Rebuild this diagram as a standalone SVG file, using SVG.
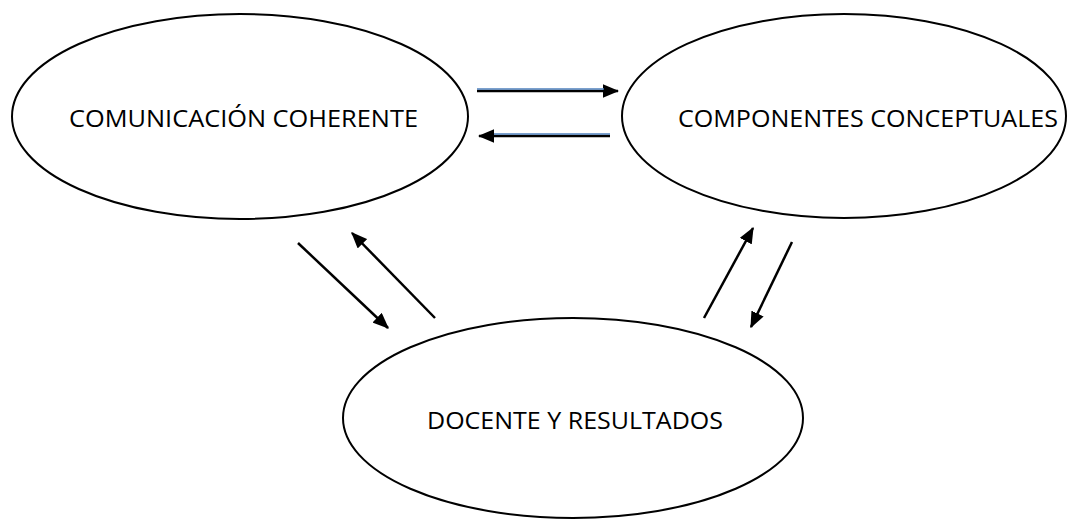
<svg xmlns="http://www.w3.org/2000/svg" width="1067" height="519" viewBox="0 0 1067 519">
<style>
.node{fill:#fff;stroke:#000;stroke-width:2}
.lbl{font-family:"Open Sans","Liberation Sans",sans-serif;font-size:24.5px;fill:#000}
.ln{stroke:#000;stroke-width:2.5;fill:none}
.blue{stroke:#4f81bd;stroke-width:1.6;fill:none}
</style>
<defs>
<marker id="ah" markerWidth="6.5" markerHeight="5.4" refX="6" refY="2.7" orient="auto" markerUnits="strokeWidth">
<path d="M0,0 L6.5,2.7 L0,5.4 Z" fill="#000"/>
</marker>
</defs>
<rect width="1067" height="519" fill="#fff"/>
<g id="n1">
<ellipse class="node" cx="240" cy="116.5" rx="228" ry="102.5"/>
<text class="lbl" x="69" y="127" textLength="349" lengthAdjust="spacingAndGlyphs">COMUNICACIÓN COHERENTE</text>
</g>
<g id="n2">
<ellipse class="node" cx="844" cy="116" rx="222" ry="102"/>
<text class="lbl" x="678" y="127" textLength="380" lengthAdjust="spacingAndGlyphs">COMPONENTES CONCEPTUALES</text>
</g>
<g id="n3">
<ellipse class="node" cx="573" cy="418" rx="230" ry="100"/>
<text class="lbl" x="427" y="429" textLength="296" lengthAdjust="spacingAndGlyphs">DOCENTE Y RESULTADOS</text>
</g>
<g id="connectors">
<line class="ln" x1="477" y1="91" x2="618" y2="91" marker-end="url(#ah)"/>
<line class="blue" x1="477" y1="89" x2="604" y2="89"/>
<line class="ln" x1="610" y1="136" x2="479" y2="136" marker-end="url(#ah)"/>
<line class="blue" x1="494" y1="134" x2="610" y2="134"/>
<line class="ln" x1="298" y1="243" x2="388" y2="328" marker-end="url(#ah)"/>
<line class="ln" x1="435" y1="318" x2="352" y2="233" marker-end="url(#ah)"/>
<line class="ln" x1="704" y1="318" x2="753" y2="228" marker-end="url(#ah)"/>
<line class="ln" x1="792" y1="242" x2="751" y2="327" marker-end="url(#ah)"/>
</g>
</svg>
